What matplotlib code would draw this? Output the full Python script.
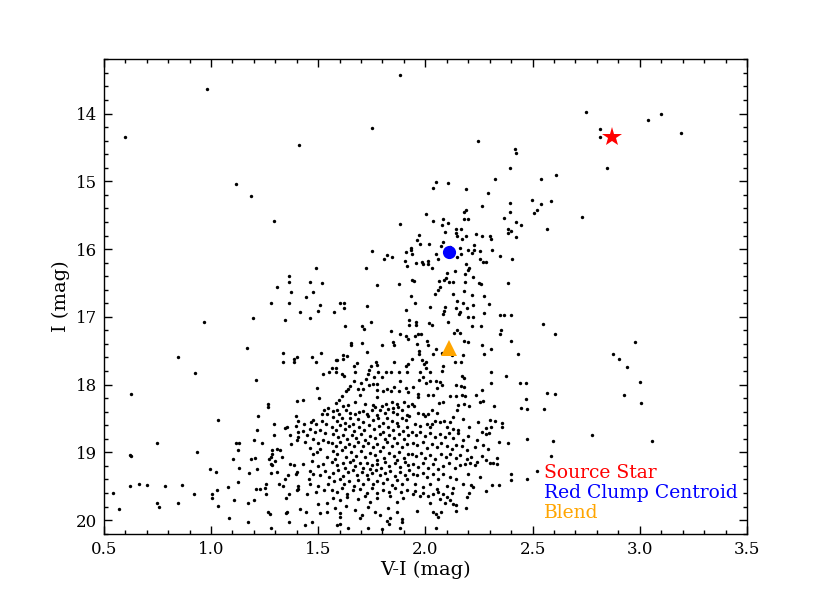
import matplotlib
matplotlib.use("Agg")
import matplotlib.pyplot as plt
from matplotlib.ticker import MultipleLocator

plt.rcParams['font.family'] = ['DejaVu Serif']
plt.rcParams['mathtext.fontset'] = 'dejavuserif'

# ---- data: field stars (V-I, I), by region ----
stars_top_left = [
    (0.98,13.64),(1.88,13.43),(0.60,14.34),(1.41,14.46),(1.75,14.21),(1.115,15.04),(1.185,15.22),(1.292,15.58),
    (2.034,15.10),(2.001,15.48),(2.037,15.59),(1.88,15.63),(1.969,15.79),(1.961,15.86),(1.977,15.92),(2.019,15.92),
    (1.933,15.99),(1.935,16.01),(1.753,16.03),(1.91,16.05),(1.936,16.08),(1.823,16.09),(1.846,16.11),(1.806,16.15),
    (1.905,16.18),(1.913,16.25),(1.956,16.20),(1.986,16.19),(1.989,16.22),(2.012,16.17),(2.014,16.22),(2.032,16.28),
    (1.723,16.28),(1.773,16.53),(1.876,16.51),(1.936,16.45),(1.945,16.47),(1.492,16.28),(1.365,16.40),(1.362,16.49),
    (1.309,16.56),(1.463,16.49),(1.517,16.50),
]
stars_top_right = [
    (2.75,13.98),(2.816,14.23),(2.816,14.34),(3.037,14.10),(3.098,14.01),(3.191,14.29),(2.848,14.81),(2.244,14.41),
    (2.419,14.53),(2.422,14.58),(2.397,14.80),(2.326,14.97),(2.54,14.97),(2.607,14.90),(2.048,15.01),(2.105,15.02),
    (2.191,15.11),(2.293,15.18),(2.264,15.36),(2.498,15.28),(2.537,15.34),(2.587,15.29),(2.521,15.43),(2.508,15.47),
    (2.73,15.52),(2.393,15.32),(2.396,15.46),(2.368,15.54),(2.422,15.60),(2.445,15.64),(2.385,15.70),(2.40,15.74),
    (2.385,15.76),(2.424,15.82),(2.567,15.71),(2.084,15.56),(2.077,15.65),(2.105,15.62),(2.178,15.45),(2.189,15.42),
    (2.178,15.55),(2.20,15.55),(2.144,15.71),(2.166,15.71),(2.144,15.76),(2.146,15.81),(2.171,15.85),(2.188,15.80),
    (2.093,15.75),(2.236,15.78),(2.264,15.80),(2.301,15.81),(2.307,15.85),(2.313,16.01),(2.225,15.94),(2.228,16.02),
    (2.084,15.90),(2.074,15.95),(2.116,15.97),(2.048,16.08),(2.057,16.14),(2.16,15.99),(2.166,16.08),(2.149,16.11),
    (2.20,16.02),(2.217,16.06),(2.254,16.03),(2.254,16.14),(2.268,16.19),(2.284,16.19),(2.349,16.10),(2.405,16.15),
    (2.188,16.22),(2.203,16.28),(2.199,16.31),(2.183,16.37),(2.14,16.32),(2.101,16.35),(2.098,16.42),(2.088,16.46),
    (2.063,16.47),(2.11,16.49),(2.13,16.48),(2.067,16.56),(2.057,16.61),(2.186,16.48),(2.22,16.41),(2.25,16.50),
    (2.261,16.51),(2.385,16.50),
]
stars_mid = [
    (0.967,17.07),(0.848,17.595),(1.169,17.46),(1.197,17.02),(1.279,16.79),(1.343,17.04),(1.337,17.53),(1.337,17.66),
    (1.387,17.62),(1.387,17.67),(1.402,17.59),(1.362,16.79),(1.371,16.64),(1.441,16.70),(1.475,16.63),(1.413,16.935),
    (1.461,17.01),(1.50,16.92),(1.508,16.83),(1.576,16.93),(1.604,16.80),(1.621,16.80),(1.621,16.87),(1.623,17.14),
    (1.73,16.84),(1.745,17.07),(1.706,17.14),(1.713,17.18),(1.472,17.59),(1.492,17.66),(1.514,17.54),(1.652,17.39),
    (1.652,17.42),(1.703,17.39),(1.73,17.52),(1.796,17.42),(1.841,17.21),(1.848,17.37),(1.88,17.26),(1.854,17.41),
    (1.908,16.90),(1.932,16.69),(1.952,16.80),(2.023,16.85),(1.924,17.05),(1.925,17.12),(1.956,17.07),(1.958,17.12),
    (2.015,17.09),(2.032,17.12),(1.91,17.28),(1.953,17.28),(1.966,17.25),(1.981,17.25),(1.921,17.33),(1.963,17.40),
    (2.009,17.36),(2.012,17.42),(2.036,17.555),(1.969,17.50),(1.972,17.55),(1.938,17.62),(1.919,17.70),(1.911,17.73),
    (1.983,17.63),(2.001,17.67),(1.994,17.70),(1.854,17.66),(1.772,17.67),(1.776,17.71),(1.747,17.73),(1.68,17.68),
    (1.667,17.72),(1.635,17.585),(1.615,17.57),(1.615,17.62),(1.59,17.64),(1.581,17.63),(1.564,17.75),(1.585,17.76),
    (1.737,17.78),(2.003,17.76),
    (2.045,16.67),(2.127,16.67),(2.181,16.62),(2.216,16.68),(2.275,16.69),(2.091,16.85),(2.087,16.92),(2.084,16.96),
    (2.149,16.76),(2.177,16.79),(2.143,16.87),(2.163,16.93),(2.158,16.96),(2.195,16.87),(2.222,16.83),(2.20,17.00),
    (2.22,17.00),(2.272,16.94),(2.296,16.81),(2.348,16.97),(2.366,16.98),(2.40,16.98),(2.549,17.10),(2.604,17.25),
    (2.976,17.37),(2.875,17.545),(2.902,17.62),(2.941,17.74),(2.107,17.08),(2.135,17.24),(2.147,17.19),(2.163,17.24),
    (2.181,17.35),(2.197,17.37),(2.216,17.14),(2.259,17.14),(2.262,17.41),(2.272,17.545),(2.306,17.47),(2.348,17.25),
    (2.355,17.19),(2.40,17.36),(2.433,17.545),(2.05,17.47),(2.077,17.54),(2.122,17.57),(2.138,17.66),(2.167,17.66),
    (2.177,17.57),(2.084,17.72),
]
stars_low_left = [
    (0.925,17.836),(1.21,17.93),(0.627,18.136),(1.034,18.525),(0.748,18.855),(0.935,18.99),(0.624,19.04),(0.626,19.05),
    (0.623,19.49),(0.664,19.465),(0.703,19.485),(0.786,19.50),(0.865,19.475),(0.545,19.60),(0.57,19.84),(0.748,19.75),
    (0.759,19.80),(0.848,19.74),(0.921,19.61),(0.997,19.25),(1.022,19.29),(1.006,19.62),(1.006,19.67),(1.031,19.79),
    (1.029,19.56),(1.078,19.515),(1.109,19.71),(1.085,19.97),(1.175,20.03),(1.174,19.75),(1.203,19.71),(1.124,19.44),
    (1.177,19.30),(1.133,19.23),(1.105,19.10),(1.119,18.86),(1.129,18.86),(1.127,18.97),(1.199,18.82),(1.236,18.86),
    (1.214,18.67),(1.22,18.47),(1.188,19.10),(1.206,19.08),(1.213,19.24),(1.21,19.54),(1.227,19.54),(1.255,19.46),
    (1.264,19.88),(1.275,19.91),(1.279,20.12),(1.259,19.61),(1.253,19.52),(1.279,19.17),(1.282,19.07),(1.284,18.96),
    (1.296,18.58),(1.296,18.75),(1.265,18.33),(1.268,18.28),(1.399,18.24),(1.396,18.47),(1.408,18.54),(1.396,18.61),
    (1.354,18.63),(1.345,18.64),(1.408,18.70),(1.368,18.75),(1.407,18.78),(1.374,18.88),(1.399,18.82),(1.331,19.07),
    (1.32,18.96),(1.307,18.95),(1.284,19.02),(1.30,19.12),(1.284,19.18),(1.273,19.10),(1.31,19.29),(1.279,19.30),
    (1.345,19.40),(1.359,19.34),(1.396,19.32),(1.402,19.29),(1.388,19.19),(1.369,19.17),(1.405,19.50),(1.408,19.54),
    (1.40,19.55),(1.365,19.62),(1.351,19.67),(1.356,19.88),(1.348,19.90),(1.365,20.02),(1.317,19.47),(1.337,19.50),
    (1.413,19.84),
]
stars_low_right = [
    (2.467,17.97),(2.568,18.12),(2.605,18.14),(2.467,18.21),(2.475,18.36),(2.447,18.34),(2.553,18.36),(2.927,18.16),
    (3.003,17.96),(3.006,18.27),(2.776,18.74),(3.056,18.83),(2.475,18.80),(2.593,18.83),(2.584,19.05),(2.522,19.28),
    (2.475,19.40),
]
stars_core_a = [
    (1.524,17.85),(1.549,17.81),(1.584,17.81),(1.61,17.85),(1.622,17.88),(1.672,17.81),(1.722,17.92),(1.734,17.85),
    (1.76,17.89),(1.78,17.81),(1.799,17.89),(1.816,17.82),(1.84,17.82),(1.878,17.81),(1.916,17.81),(1.496,18.05),
    (1.504,18.20),(1.428,18.22),(1.667,17.95),(1.649,18.02),(1.638,18.07),(1.63,18.10),(1.70,17.98),(1.684,18.07),
    (1.695,18.15),(1.71,18.06),(1.739,18.01),(1.754,17.99),(1.773,17.99),(1.776,18.08),(1.776,18.19),(1.804,18.10),
    (1.822,18.06),(1.841,18.10),(1.854,18.03),(1.881,17.94),(1.878,18.09),(1.909,18.05),(1.92,18.11),(1.611,18.17),
    (1.599,18.225),(1.546,18.34),(1.528,18.37),(1.518,18.43),(1.543,18.43),(1.478,18.52),(1.465,18.555),(1.49,18.58),
    (1.434,18.58),(1.516,18.53),(1.537,18.58),(1.428,18.68),(1.462,18.65),(1.486,18.70),(1.447,18.75),(1.509,18.67),
    (1.532,18.72),(1.439,18.84),(1.478,18.80),(1.501,18.865),(1.524,18.82),(1.548,18.85),(1.462,18.93),(1.509,18.95),
]
stars_core_b = [
    (1.975,17.82),(2.021,17.82),(2.079,17.80),(1.99,17.89),(1.971,17.93),(2.001,17.98),(2.021,17.94),(2.049,17.95),
    (2.068,17.96),(2.079,18.01),(1.94,18.04),(1.967,18.14),(1.964,18.18),(2.01,18.15),(2.037,18.15),(2.055,18.05),
    (2.169,17.87),(2.181,17.90),(2.166,18.02),(2.18,18.04),(2.142,18.01),(2.114,18.17),(2.142,18.17),(2.169,18.16),
    (2.184,18.17),(2.234,18.15),(2.262,18.08),(2.308,17.82),(2.305,17.97),(2.374,17.87),(2.44,17.97),(2.254,18.26),
    (2.27,18.245),(2.203,18.32),(2.181,18.29),(2.153,18.30),(2.148,18.37),(2.083,18.26),(2.065,18.275),(2.029,18.37),
    (2.052,18.42),(2.013,18.44),(1.998,18.47),(1.987,18.44),(1.936,18.28),(1.947,18.32),(1.967,18.42),(2.321,18.32),
    (2.325,18.53),(2.357,18.57),(2.357,18.62),(2.301,18.52),(2.305,18.63),(2.285,18.64),(2.246,18.55),(2.204,18.62),
    (2.176,18.51),(2.13,18.48),(2.114,18.555),(2.088,18.53),(2.068,18.555),(2.044,18.54),(2.029,18.58),(2.099,18.62),
    (2.13,18.65),(2.153,18.67),(2.021,18.63),(2.006,18.58),(1.975,18.605),(1.951,18.58),(2.344,18.84),(2.386,18.865),
]
stars_core_c = [
    (1.428,19.17),(1.478,19.02),(1.493,19.00),(1.47,19.12),(1.501,19.195),(1.524,19.17),(1.54,19.07),(1.478,19.318),
    (1.462,19.28),(1.509,19.34),(1.532,19.27),(1.552,19.37),(1.459,19.39),(1.462,19.465),(1.447,19.61),(1.49,19.59),
    (1.501,19.49),(1.527,19.555),(1.548,19.465),(1.501,19.76),(1.54,19.74),(1.54,19.884),(1.444,19.884),(1.509,19.90),
    (1.47,20.03),(1.439,20.07),(1.822,20.01),(1.832,20.05),(1.889,20.03),(1.602,20.05),(1.587,20.07),(1.641,20.11),
    (1.734,20.11),(1.796,20.13),(1.881,20.12),
]
stars_core_d = [
    (2.335,19.08),(2.301,19.16),(2.316,19.16),(2.335,19.17),(2.313,19.48),(2.344,19.48),(2.401,19.32),(2.401,19.41),
    (2.204,19.60),(2.195,19.66),(1.944,19.61),(1.975,19.64),(1.99,19.60),(2.013,19.65),(2.037,19.62),(2.06,19.59),
    (2.083,19.62),(2.099,19.66),(2.122,19.60),(2.068,19.69),(2.091,19.74),(2.114,19.70),(2.021,19.74),(2.13,19.76),
    (2.145,19.775),(2.282,19.575),(2.145,19.87),(2.189,19.82),(1.962,19.86),(2.034,19.884),(2.049,19.91),(2.071,19.884),
    (2.06,19.96),(2.049,20.115),(1.951,19.565),
]
stars_dense_upper = [
    (1.583,18.274),(1.617,18.31),(1.641,18.30),(1.672,18.26),(1.718,18.29),(1.754,18.30),(1.765,18.325),(1.796,18.309),
    (1.816,18.288),(1.843,18.26),(1.866,18.28),(1.900,18.25),(1.92,18.319),(1.85,18.34),(1.571,18.39),(1.590,18.368),
    (1.599,18.44),(1.630,18.377),(1.649,18.415),(1.672,18.436),(1.692,18.40),(1.711,18.386),(1.729,18.428),(1.75,18.37),
    (1.773,18.447),(1.788,18.38),(1.812,18.418),(1.827,18.355),(1.85,18.41),(1.866,18.435),(1.889,18.38),(1.913,18.444),
    (1.874,18.336),(1.568,18.485),(1.587,18.53),(1.61,18.50),(1.625,18.56),(1.649,18.495),(1.664,18.575),(1.687,18.51),
    (1.711,18.545),(1.734,18.47),(1.754,18.525),(1.781,18.50),(1.804,18.56),(1.823,18.49),(1.843,18.533),(1.866,18.566),
    (1.889,18.495),(1.909,18.528),(1.925,18.47),(1.563,18.63),(1.583,18.672),(1.602,18.60),(1.625,18.65),(1.645,18.615),
    (1.667,18.683),(1.692,18.626),(1.714,18.665),(1.739,18.60),(1.76,18.658),(1.785,18.614),(1.804,18.692),(1.827,18.625),
    (1.85,18.672),(1.874,18.615),(1.897,18.681),(1.916,18.632),(1.571,18.73),(1.594,18.775),(1.614,18.74),(1.633,18.806),
    (1.656,18.75),(1.677,18.79),(1.698,18.722),(1.718,18.818),(1.742,18.755),(1.765,18.783),(1.788,18.733),(1.812,18.805),
    (1.832,18.748),(1.854,18.79),(1.878,18.724),(1.90,18.806),(1.92,18.749),(1.563,18.868),(1.583,18.905),(1.602,18.846),
    (1.625,18.92),(1.645,18.878),(1.667,18.91),(1.687,18.853),(1.711,18.904),(1.734,18.862),(1.754,18.928),(1.776,18.872),
    (1.801,18.917),(1.819,18.846),(1.843,18.904),(1.866,18.861),(1.889,18.928),(1.913,18.87),(1.571,18.978),(1.590,19.02),
    (1.61,18.97),(1.63,19.066),(1.652,18.995),(1.677,19.05),(1.698,18.98),(1.718,19.075),(1.742,19.01),(1.765,19.044),
    (1.788,18.978),(1.807,19.085),(1.832,19.016),(1.854,19.058),(1.878,18.995),(1.90,19.076),(1.92,19.02),(1.579,19.10),
    (1.664,19.115),(1.773,19.108),(1.866,19.116),
]
stars_dense_lower = [
    (1.563,19.146),(1.587,19.184),(1.614,19.157),(1.625,19.224),(1.649,19.142),(1.672,19.198),(1.695,19.163),(1.711,19.234),
    (1.729,19.15),(1.75,19.192),(1.773,19.174),(1.792,19.226),(1.812,19.143),(1.832,19.199),(1.858,19.158),(1.881,19.216),
    (1.905,19.149),(1.92,19.191),(1.742,19.248),(1.568,19.297),(1.594,19.265),(1.617,19.347),(1.641,19.29),(1.661,19.255),
    (1.68,19.332),(1.703,19.283),(1.726,19.34),(1.75,19.297),(1.77,19.262),(1.788,19.338),(1.812,19.31),(1.835,19.272),
    (1.858,19.346),(1.881,19.29),(1.905,19.331),(1.925,19.266),(1.574,19.42),(1.602,19.389),(1.621,19.47),(1.645,19.423),
    (1.667,19.494),(1.687,19.404),(1.711,19.46),(1.734,19.395),(1.754,19.472),(1.776,19.419),(1.801,19.452),(1.823,19.396),
    (1.843,19.479),(1.866,19.413),(1.889,19.47),(1.913,19.388),(1.563,19.558),(1.587,19.585),(1.61,19.528),(1.633,19.607),
    (1.664,19.56),(1.695,19.544),(1.726,19.593),(1.75,19.522),(1.773,19.6),(1.804,19.558),(1.832,19.585),(1.858,19.528),
    (1.885,19.578),(1.913,19.55),(1.571,19.667),(1.602,19.708),(1.633,19.657),(1.687,19.684),(1.718,19.642),(1.742,19.732),
    (1.773,19.676),(1.835,19.65),(1.866,19.739),(1.897,19.669),(1.579,19.814),(1.602,19.895),(1.63,19.79),(1.672,19.856),
    (1.703,19.922),(1.734,19.807),(1.765,19.873),(1.788,19.93),(1.827,19.814),(1.866,19.88),(1.602,19.955),(1.695,19.972),
    (1.835,19.962),(1.889,19.98),
]
stars_dense_right = [
    (1.936,18.703),(1.956,18.741),(1.975,18.699),(1.998,18.756),(2.021,18.714),(2.044,18.78),(2.068,18.723),(2.091,18.771),
    (2.111,18.707),(2.13,18.782),(2.153,18.72),(2.176,18.812),(2.20,18.756),(2.239,18.822),(2.262,18.706),(2.282,18.731),
    (2.298,18.714),(1.94,18.869),(1.962,18.896),(1.987,18.854),(2.006,18.93),(2.029,18.879),(2.052,18.92),(2.075,18.869),
    (2.099,18.904),(2.122,18.945),(2.145,18.889),(2.173,18.91),(2.195,18.968),(2.231,18.92),(2.27,18.889),(2.293,18.945),
    (1.936,19.027),(1.956,19.058),(1.978,19.002),(1.998,19.078),(2.021,19.037),(2.044,19.093),(2.071,19.027),(2.096,19.068),
    (2.114,19.017),(2.142,19.078),(2.161,19.037),(2.192,19.093),(2.215,19.066),(2.239,19.142),(2.262,19.051),(2.285,19.107),
    (1.944,19.174),(1.967,19.216),(1.99,19.15),(2.013,19.226),(2.037,19.174),(2.06,19.24),(2.083,19.199),(2.111,19.156),
    (2.138,19.224),(2.161,19.191),(2.184,19.174),(2.207,19.156),(2.231,19.184),(1.94,19.312),(1.962,19.339),(1.987,19.297),
    (2.009,19.363),(2.034,19.322),(2.06,19.388),(2.083,19.324),(2.114,19.361),(2.145,19.388),(2.20,19.322),(2.254,19.363),
    (1.951,19.47),(1.99,19.511),(2.021,19.46),(2.052,19.536),(2.099,19.494),(2.13,19.521),(2.176,19.47),(2.215,19.48),
    (2.223,19.511),
]

# special objects
source_star = (2.87, 14.35)
red_clump = (2.11, 16.05)
blend = (2.11, 17.46)

x_ticks = [0.5, 1.0, 1.5, 2.0, 2.5, 3.0, 3.5]
y_ticks = [14, 15, 16, 17, 18, 19, 20]
labels = ["Source Star", "Red Clump Centroid", "Blend"]
label_colors = ["red", "blue", "orange"]
label_y = [19.30, 19.60, 19.89]

fig = plt.figure(figsize=(8.3, 5.93), dpi=100)
fig.subplots_adjust(left=0.125, right=0.9, bottom=0.1, top=0.9)
ax = fig.add_subplot(111)

groups = [stars_top_left, stars_top_right, stars_mid, stars_low_left, stars_low_right,
          stars_core_a, stars_core_b, stars_core_c, stars_core_d,
          stars_dense_upper, stars_dense_lower, stars_dense_right]
xs, ys = [], []
for g in groups:
    for vi, imag in g:
        xs.append(vi)
        ys.append(imag)
ax.scatter(xs, ys, s=6, c='black', marker='o', linewidths=0, zorder=2)

ax.plot([source_star[0]], [source_star[1]], marker='*', color='red', markersize=15,
        markeredgewidth=0, linestyle='none', zorder=3)
ax.plot([red_clump[0]], [red_clump[1]], marker='o', color='blue', markersize=9.5,
        markeredgewidth=0, linestyle='none', zorder=3)
ax.plot([blend[0]], [blend[1]], marker='^', color='orange', markersize=11,
        markeredgewidth=0, linestyle='none', zorder=3)

ax.set_xlim(0.5, 3.5)
ax.set_ylim(20.2, 13.2)
ax.set_xticks(x_ticks)
ax.set_yticks(y_ticks)
ax.set_xticklabels([f"{t:.1f}" for t in x_ticks])
ax.set_yticklabels([f"{t}" for t in y_ticks])
ax.xaxis.set_minor_locator(MultipleLocator(0.1))
ax.yaxis.set_minor_locator(MultipleLocator(0.2))
ax.tick_params(which='both', direction='in', top=True, right=True, labelsize=12, width=1)
ax.tick_params(which='major', length=6, pad=5)
ax.tick_params(which='minor', length=3)
for s in ax.spines.values():
    s.set_linewidth(1)

ax.set_xlabel("V-I (mag)", fontsize=14, labelpad=2)
ax.set_ylabel("I (mag)", fontsize=14, labelpad=4)

for txt, col, yy in zip(labels, label_colors, label_y):
    ax.text(2.553, yy, txt, color=col, fontsize=13.5, va='center', ha='left')

fig.savefig("out.png", dpi=100)
